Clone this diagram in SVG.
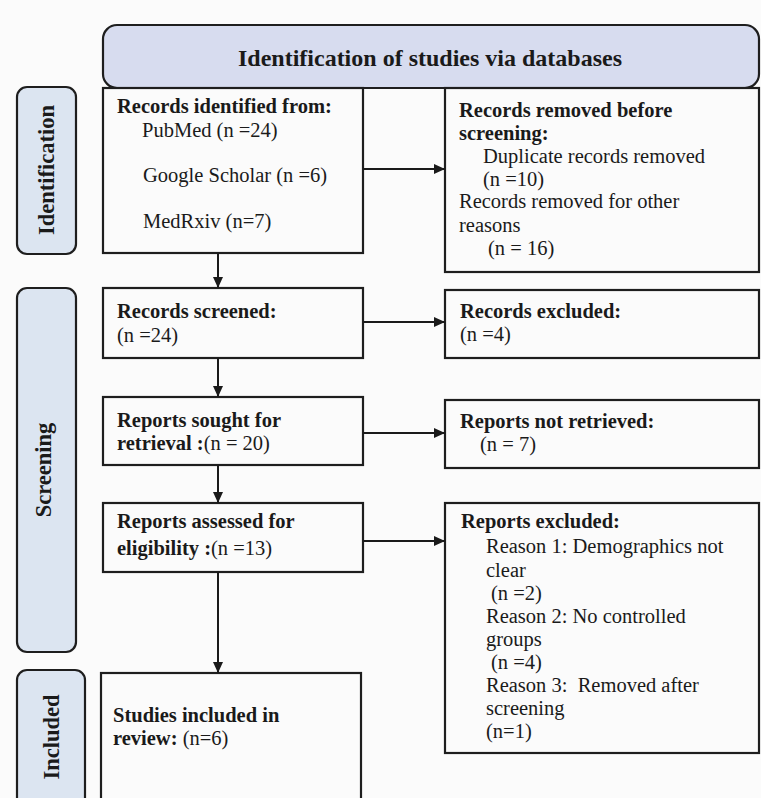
<svg xmlns="http://www.w3.org/2000/svg" width="761" height="798" viewBox="0 0 761 798">
<defs>
<style>
.box{fill:#fbfbfb;stroke:#1e1e1e;stroke-width:2.2}
.side{fill:#dce5f1;stroke:#1e1e1e;stroke-width:2.2}
.hdr{fill:#d7dcef;stroke:#1e1e1e;stroke-width:2.2}
text{font-family:"Liberation Serif","Times New Roman",serif;fill:#1a1a1a}
.t{font-size:20.5px}
.b{font-weight:bold}
.st{font-size:22.5px;font-weight:bold}
.conn line{stroke:#1a1a1a;stroke-width:2;marker-end:url(#ah)}
</style>
<marker id="ah" markerUnits="userSpaceOnUse" markerWidth="11" markerHeight="10" refX="11" refY="5" orient="auto">
<path d="M0,0 L11,5 L0,10 z" fill="#1a1a1a"/>
</marker>
</defs>
<rect x="0" y="0" width="761" height="798" fill="#fbfbfb"/>

<g id="header">
<rect class="hdr" x="103" y="25" width="656" height="63" rx="14"/>
<text x="430" y="66" text-anchor="middle" class="b" font-size="24">Identification of studies via databases</text>
</g>

<g id="side-identification">
<rect class="side" x="17" y="87" width="59" height="167" rx="10"/>
<text class="st" transform="translate(54,170) rotate(-90)" text-anchor="middle">Identification</text>
</g>
<g id="side-screening">
<rect class="side" x="17" y="288" width="59" height="364" rx="10"/>
<text class="st" transform="translate(51,470) rotate(-90)" text-anchor="middle">Screening</text>
</g>
<g id="side-included">
<rect class="side" x="17" y="670" width="68" height="140" rx="10"/>
<text class="st" transform="translate(59,737) rotate(-90)" text-anchor="middle">Included</text>
</g>

<g id="records-identified">
<rect class="box" x="103" y="88" width="260" height="165"/>
<text class="t b" x="117" y="113">Records identified from:</text>
<text class="t" x="142" y="137">PubMed (n =24)</text>
<text class="t" x="143" y="182">Google Scholar (n =6)</text>
<text class="t" x="143" y="228">MedRxiv (n=7)</text>
</g>

<g id="records-removed">
<rect class="box" x="445" y="88" width="314" height="184"/>
<text class="t b" x="459" y="117">Records removed before</text>
<text class="t b" x="459" y="140">screening:</text>
<text class="t" x="483" y="163">Duplicate records removed</text>
<text class="t" x="483" y="186">(n =10)</text>
<text class="t" x="459" y="208">Records removed for other</text>
<text class="t" x="459" y="232">reasons</text>
<text class="t" x="488" y="255">(n = 16)</text>
</g>

<g id="records-screened">
<rect class="box" x="103" y="288" width="260" height="70"/>
<text class="t b" x="117" y="318">Records screened:</text>
<text class="t" x="117" y="342">(n =24)</text>
</g>

<g id="records-excluded">
<rect class="box" x="445" y="290" width="314" height="68"/>
<text class="t b" x="460" y="318">Records excluded:</text>
<text class="t" x="460" y="341">(n =4)</text>
</g>

<g id="reports-sought">
<rect class="box" x="103" y="397" width="260" height="68"/>
<text class="t b" x="117" y="427">Reports sought for</text>
<text class="t" x="117" y="450"><tspan class="b">retrieval :</tspan>(n = 20)</text>
</g>

<g id="reports-not-retrieved">
<rect class="box" x="445" y="400" width="314" height="68"/>
<text class="t b" x="460" y="428">Reports not retrieved:</text>
<text class="t" x="480" y="451">(n = 7)</text>
</g>

<g id="reports-assessed">
<rect class="box" x="103" y="503" width="260" height="69"/>
<text class="t b" x="117" y="528">Reports assessed for</text>
<text class="t" x="117" y="555"><tspan class="b">eligibility :</tspan>(n =13)</text>
</g>

<g id="reports-excluded">
<rect class="box" x="445" y="503" width="314" height="250"/>
<text class="t b" x="461" y="528">Reports excluded:</text>
<text class="t" x="486" y="553">Reason 1: Demographics not</text>
<text class="t" x="486" y="577">clear</text>
<text class="t" x="491" y="600">(n =2)</text>
<text class="t" x="486" y="623">Reason 2: No controlled</text>
<text class="t" x="486" y="646">groups</text>
<text class="t" x="491" y="669">(n =4)</text>
<text class="t" x="486" y="692" xml:space="preserve">Reason 3:  Removed after</text>
<text class="t" x="486" y="715">screening</text>
<text class="t" x="486" y="738">(n=1)</text>
</g>

<g id="studies-included">
<rect class="box" x="101" y="673" width="260" height="140"/>
<text class="t b" x="113" y="722">Studies included in</text>
<text class="t" x="113" y="745"><tspan class="b">review:</tspan> (n=6)</text>
</g>

<g id="connectors" class="conn">
<line x1="363" y1="169" x2="445" y2="169"/>
<line x1="218" y1="253" x2="218" y2="288"/>
<line x1="363" y1="322" x2="445" y2="322"/>
<line x1="218" y1="358" x2="218" y2="397"/>
<line x1="363" y1="433" x2="445" y2="433"/>
<line x1="218" y1="465" x2="218" y2="503"/>
<line x1="363" y1="541" x2="445" y2="541"/>
<line x1="218" y1="572" x2="218" y2="673"/>
</g>
</svg>
